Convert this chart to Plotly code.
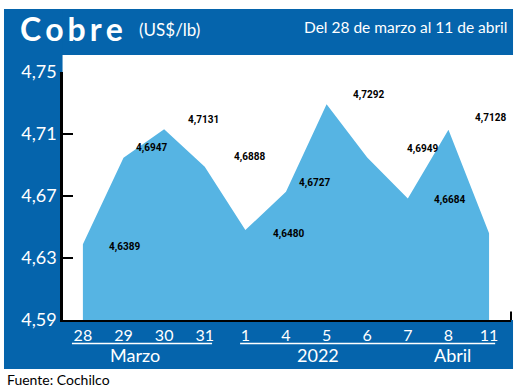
import plotly.graph_objects as go

# ---- data ----
days = ["28", "29", "30", "31", "1", "4", "5", "6", "7", "8", "11"]
prices = [4.6389, 4.6947, 4.7131, 4.6888, 4.6480, 4.6727, 4.7292, 4.6949, 4.6684, 4.7128, 4.6460]
labelled = [4.6389, 4.6947, 4.7131, 4.6888, 4.6480, 4.6727, 4.7292, 4.6949, 4.6684, 4.7128]
y_ticks = [4.59, 4.63, 4.67, 4.71, 4.75]
groups = ["Marzo", "2022", "Abril"]

# ---- style ----
DARK = "#0564AC"
LIGHT = "#56B4E3"
SANS = "Lato, 'Open Sans', sans-serif"
LABEL_FONT = "Roboto, 'Liberation Sans', sans-serif"
label_shift = [(42, -3), (28, 10), (39, 9), (45, 10), (43, -4), (29, 9), (42, 9), (55, 8), (42, -2), (42, 12)]
group_x = [1.28, 5.79, 9.11]
lines_x = [(-0.27, 3.18), (3.87, 10.15)]

x_idx = list(range(len(days)))

fig = go.Figure()
fig.add_trace(go.Scatter(
    x=x_idx, y=prices, mode="lines", fill="tozeroy",
    fillcolor=LIGHT, line=dict(width=0, color=LIGHT), hoverinfo="skip",
))

shapes = []
# blue frame
shapes.append(dict(type="rect", xref="paper", yref="paper", x0=-0.1317, x1=1.0045,
                   y0=1.0685, y1=1.254, fillcolor=DARK, line=dict(width=0), layer="below"))
shapes.append(dict(type="rect", xref="paper", yref="paper", x0=-0.1317, x1=-0.001,
                   y0=-0.1976, y1=1.254, fillcolor=DARK, line=dict(width=0), layer="below"))
shapes.append(dict(type="rect", xref="paper", yref="paper", x0=-0.1317, x1=1.0045,
                   y0=-0.1976, y1=0.0, fillcolor=DARK, line=dict(width=0), layer="below"))
# right end tick
shapes.append(dict(type="line", xref="paper", yref="paper", x0=1.0, x1=1.0, y0=0.0, y1=0.034,
                   line=dict(color="black", width=2)))
# group underlines
for a, b in lines_x:
    shapes.append(dict(type="line", xref="x", yref="paper", x0=a, x1=b, y0=-0.095, y1=-0.095,
                       line=dict(color="white", width=1.5)))

annotations = []
for i, v in enumerate(labelled):
    dx, dy = label_shift[i]
    annotations.append(dict(x=i, y=v, xref="x", yref="y", text=f"{v:.4f}".replace(".", ","),
                            showarrow=False, xshift=dx, yshift=dy,
                            font=dict(family=LABEL_FONT, size=10, color="black", weight="bold")))
for g, gx in zip(groups, group_x):
    annotations.append(dict(x=gx, y=-0.14, xref="x", yref="paper", text=g, showarrow=False,
                            xanchor="center", yanchor="middle",
                            font=dict(family=SANS, size=18, color="white")))
annotations.append(dict(x=-0.1, y=1.175, xref="paper", yref="paper",
                        text="C\u2009o\u2009b\u2009r\u2009e", showarrow=False,
                        xanchor="left", yanchor="middle",
                        font=dict(family=SANS, size=32, color="white", weight=700)))
annotations.append(dict(x=0.166, y=1.17, xref="paper", yref="paper", text="(US$/lb)",
                        showarrow=False, xanchor="left", yanchor="middle",
                        font=dict(family=SANS, size=17, color="white")))
annotations.append(dict(x=0.998, y=1.181, xref="paper", yref="paper",
                        text="Del 28 de marzo al 11 de abril", showarrow=False,
                        xanchor="right", yanchor="middle",
                        font=dict(family=SANS, size=15.5, color="white")))
annotations.append(dict(x=-0.1295, y=-0.238, xref="paper", yref="paper",
                        text="Fuente: Cochilco", showarrow=False,
                        xanchor="left", yanchor="middle",
                        font=dict(family=SANS, size=14, color="black")))

fig.update_layout(
    width=520, height=391,
    margin=dict(l=63, r=9, t=72, b=71),
    paper_bgcolor="white", plot_bgcolor="white",
    showlegend=False,
    shapes=shapes, annotations=annotations,
    xaxis=dict(
        range=[-0.49, 10.54], tickmode="array", tickvals=x_idx, ticktext=days,
        showline=True, linecolor="black", linewidth=2, ticks="", showgrid=False,
        zeroline=False, tickfont=dict(family=SANS, size=16, color="white"),
        fixedrange=True, automargin=False,
    ),
    yaxis=dict(
        range=[4.59, 4.75], tickmode="array", tickvals=y_ticks,
        ticktext=[f"{t:.2f}".replace(".", ",") for t in y_ticks],
        showline=True, linecolor="black", linewidth=2.5, ticks="inside", ticklen=10,
        tickwidth=2, tickcolor="black", showgrid=False, zeroline=False,
        tickfont=dict(family=SANS, size=18, color="white"), fixedrange=True,
        automargin=False,
    ),
)

fig.write_html("out.html", config={"displayModeBar": False},
               post_script="document.body.style.margin='0';document.body.style.overflow='hidden';")
